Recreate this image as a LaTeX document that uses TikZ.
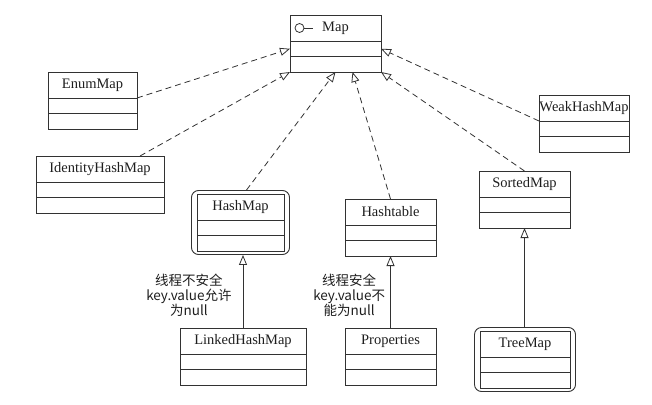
\documentclass[tikz,border=0pt]{standalone}
\usepackage{fontspec}
\setmainfont{Liberation Serif}
\newfontfamily\cjkfont{Noto Sans CJK SC}
\usetikzlibrary{arrows.meta, positioning, fit}
\definecolor{lineGrey}{RGB}{50,50,50}
\definecolor{textGrey}{RGB}{30,30,30}

\begin{document}
\begin{tikzpicture}[
  x=1pt, y=-1pt,
  cls/.style={rectangle, draw=lineGrey, line width=0.9pt, outer sep=0pt,
              inner sep=0pt, minimum height=26pt, text=textGrey,
              font=\fontsize{14.5}{17}\selectfont},
  row/.style={rectangle, draw=lineGrey, line width=0.9pt, outer sep=0pt,
              inner sep=0pt, minimum height=15.5pt},
  frame/.style={draw=lineGrey, line width=0.9pt, rounded corners=7pt,
                inner xsep=5.5pt, inner ysep=3.5pt},
  impl/.style={-{Triangle[open, length=10pt, width=8pt]}, lineGrey,
               line width=0.8pt, dash pattern=on 6pt off 4pt},
  ext/.style={-{Triangle[open, length=10pt, width=8pt]}, lineGrey,
              line width=0.8pt},
  note/.style={font=\cjkfont\fontsize{13.5}{15}\selectfont, align=center,
               text=textGrey, inner sep=3pt},
]
\useasboundingbox (0,0) rectangle (652,404);

%% Class boxes: name row + two empty rows
\foreach \nm/\txt/\cx/\cy/\w in {
    map/Map/335.5/28/91,
    enum/EnumMap/92.5/85/89,
    ihm/IdentityHashMap/100/169/128,
    whm/WeakHashMap/584/108/90,
    sm/SortedMap/524.5/184/91,
    hm/HashMap/240.5/207/87,
    ht/Hashtable/390.5/212/91,
    lhm/LinkedHashMap/243/341/126,
    prop/Properties/390.5/341/91,
    tm/TreeMap/525/344/90} {
  \node[cls, minimum width=\w pt] (\nm) at (\cx,\cy) {\txt};
  \node[row, minimum width=\w pt, below=0pt of \nm] (\nm-a) {};
  \node[row, minimum width=\w pt, below=0pt of \nm-a] (\nm-b) {};
}

%% Interface mark on Map
\draw[lineGrey, line width=0.8pt] ([xshift=9.5pt]map.west) circle (4.5pt);
\draw[lineGrey, line width=0.8pt] ([xshift=14pt]map.west) -- ++(9,0);

%% Double frames
\node[frame, fit=(hm)(hm-b)] (hmo) {};
\node[frame, fit=(tm)(tm-b)] (tmo) {};

%% Implements Map
\draw[impl] (enum.south east) -- (map-a.west);
\draw[impl] ([xshift=40pt]ihm.north) -- (map-b.south west);
\draw[impl] ([xshift=6pt]hmo.north) -- (map-b.south);
\draw[impl] (ht.north) -- ([xshift=17pt]map-b.south);
\draw[impl] (sm.north) -- (map-b.south east);
\draw[impl] (whm.south west) -- (map-a.east);

%% Extends
\draw[ext] (lhm.north) -- node[note, pos=0.45, left=8pt]
  {线程不安全\\key.value允许\\为null} (lhm.north |- hmo.south);
\draw[ext] (prop.north) -- node[note, pos=0.45, left=2pt]
  {线程安全\\key.value不\\能为null} (prop.north |- ht-b.south);
\draw[ext] (sm-b.south |- tmo.north) -- (sm-b.south);
\end{tikzpicture}
\end{document}
